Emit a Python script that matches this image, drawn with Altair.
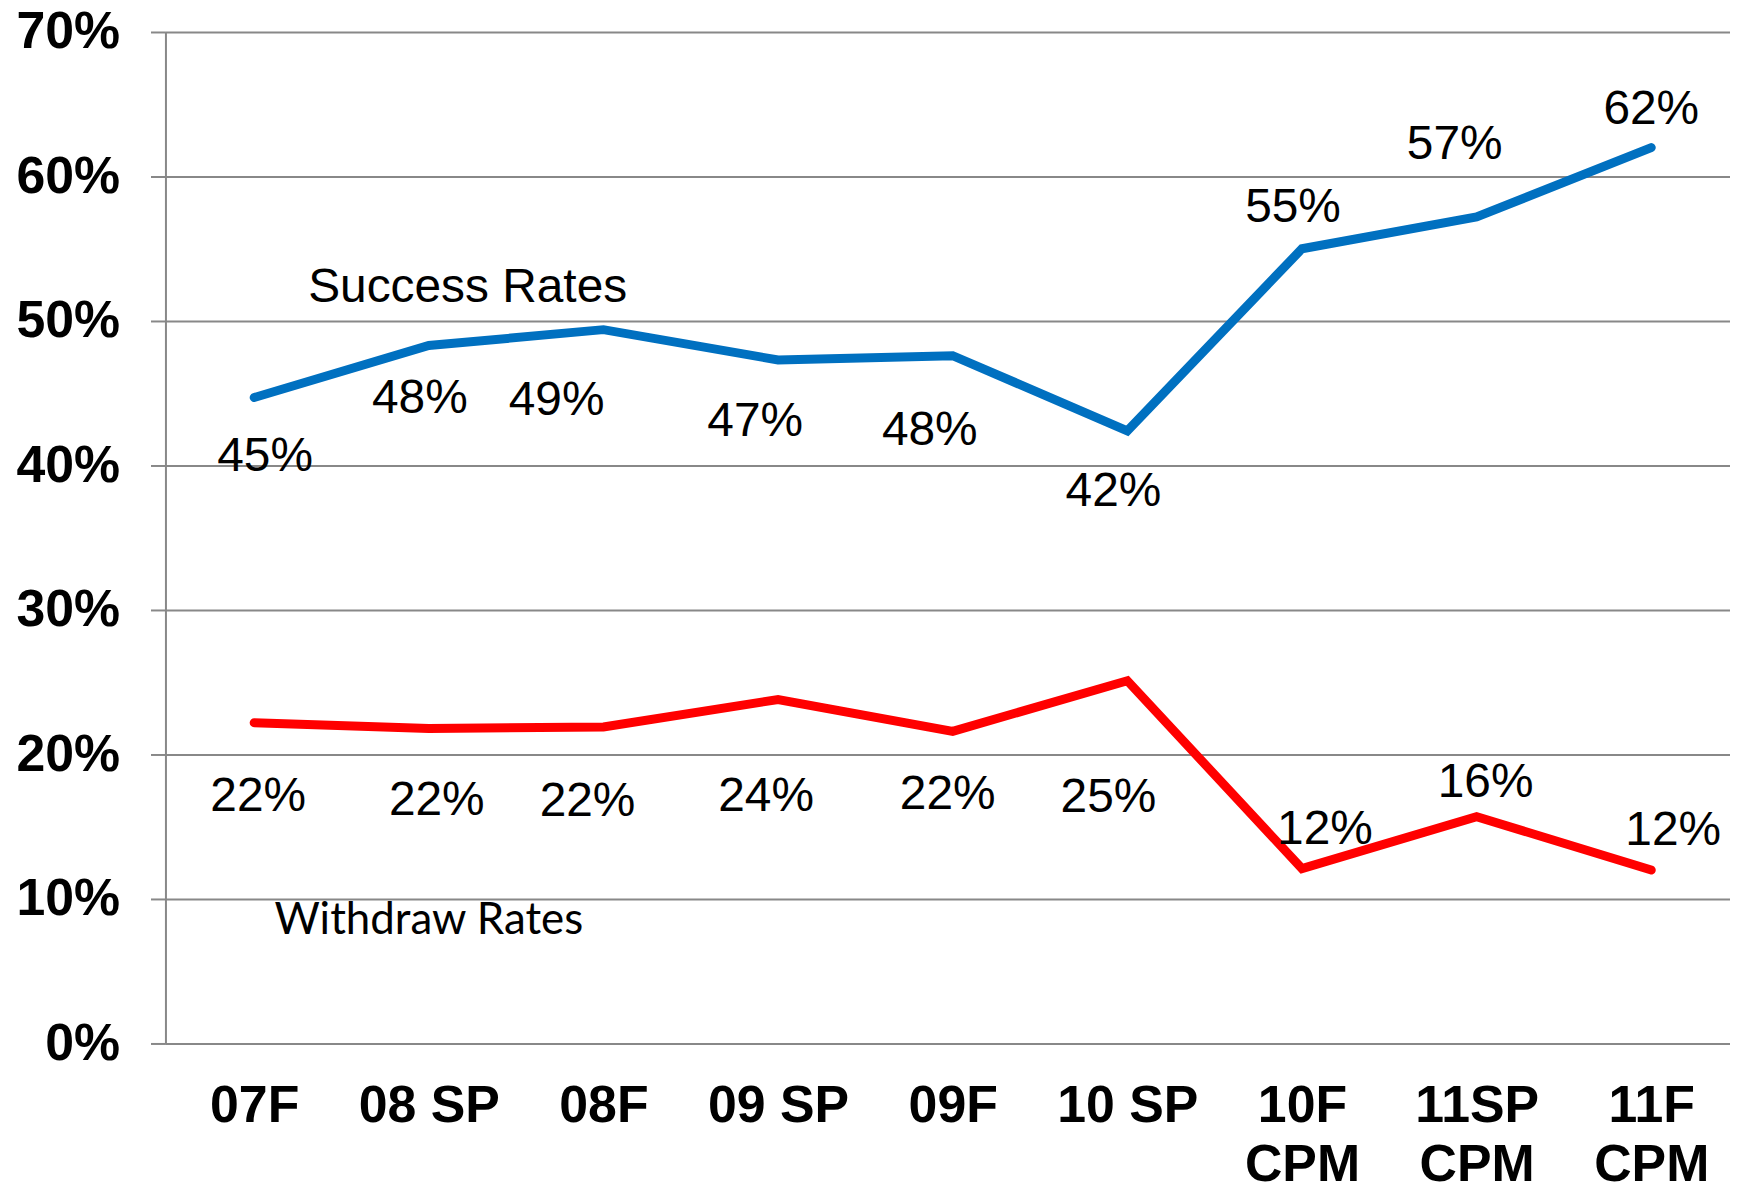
import json
import altair as alt
import pandas as pd

categories = ["07F", "08 SP", "08F", "09 SP", "09F", "10 SP", "10F\nCPM", "11SP\nCPM", "11F\nCPM"]
success = [44.7, 48.3, 49.4, 47.3, 47.6, 42.4, 55.0, 57.2, 62.0]
withdraw = [22.2, 21.8, 21.9, 23.8, 21.6, 25.1, 12.1, 15.7, 12.0]

# label nudges (pixels) relative to each point
success_dx = [11, -9, -47, -23, -23, -14, -9, -22, 0]
success_dy = [60, 54, 72, 62, 76, 61, -41, -72, -38]
withdraw_dx = [4, 8, -16, -12, -5, -19, 23, 9, 22]
withdraw_dy = [75, 73, 75, 98, 64, 118, -39, -34, -39]

series_names = ["Success", "Withdraw"]
series_colors = ["#0070C0", "#FF0000"]

ann_text = ["Success Rates", "Withdraw Rates"]
ann_idx = [1, 1]
ann_y = [52.3, 8.5]

rows = []
for i, c in enumerate(categories):
    rows.append({"idx": i, "cat": c, "series": "Success", "value": success[i]})
for i, c in enumerate(categories):
    rows.append({"idx": i, "cat": c, "series": "Withdraw", "value": withdraw[i]})
df = pd.DataFrame(rows)

n = len(categories)
x_enc = alt.X(
    "idx:Q",
    scale=alt.Scale(domain=[-0.508, 8.451], nice=False, zero=False),
    axis=alt.Axis(
        title=None,
        values=list(range(n)),
        domain=False,
        ticks=False,
        grid=False,
        labelFlush=False,
        labelOverlap=False,
        labelFont="Liberation Sans",
        labelFontWeight="bold",
        labelFontSize=52,
        labelColor="black",
        labelPadding=37,
        labelLineHeight=60,
        labelExpr="split(" + json.dumps(categories) + "[datum.value], '\\n')",
    ),
)
y_enc = alt.Y(
    "value:Q",
    scale=alt.Scale(domain=[0, 70], nice=False),
    axis=alt.Axis(
        title=None,
        values=[0, 10, 20, 30, 40, 50, 60, 70],
        labelExpr="datum.value + '%'",
        labelFont="Liberation Sans",
        labelFontWeight="bold",
        labelFontSize=52,
        labelColor="black",
        labelPadding=31,
        tickSize=15,
        tickColor="#888888",
        tickWidth=2,
        domainColor="#888888",
        domainWidth=2,
        gridColor="#888888",
        gridWidth=2,
    ),
)

base = alt.Chart(df).encode(x=x_enc, y=y_enc)

lines = base.mark_line(strokeWidth=9, strokeCap="round").encode(
    color=alt.Color("series:N", scale=alt.Scale(domain=series_names, range=series_colors), legend=None),
    detail="series:N",
)

label_layers = []
for name, dxs, dys in [("Success", success_dx, success_dy), ("Withdraw", withdraw_dx, withdraw_dy)]:
    for i in range(n):
        label_layers.append(
            base.transform_filter(
                f"datum.series == '{name}' && datum.idx == {i}"
            ).transform_calculate(
                label="format(datum.value, '.0f') + '%'"
            ).mark_text(
                font="Liberation Sans", fontSize=48, baseline="middle", align="center",
                color="black", dx=dxs[i], dy=dys[i]
            ).encode(text="label:N")
        )

ann_df = pd.DataFrame({"idx": ann_idx, "value": ann_y, "text": ann_text})

ann_success = alt.Chart(ann_df.iloc[[0]]).mark_text(
    font="Liberation Sans", fontSize=48, baseline="middle", align="center", color="black", dx=39
).encode(x="idx:Q", y="value:Q", text="text:N")

ann_withdraw = alt.Chart(ann_df.iloc[[1]]).mark_text(
    font="Lato", fontSize=44, baseline="middle", align="center", color="black"
).encode(x="idx:Q", y="value:Q", text="text:N")

chart = alt.layer(lines, *label_layers, ann_success, ann_withdraw).properties(
    width=1570,
    height=1015,
    autosize=alt.AutoSizeParams(type="none"),
    padding={"left": 158, "top": 22, "right": 0, "bottom": 150},
).configure_view(stroke=None)

chart.save("out.html", embed_options={"renderer": "svg", "actions": False})
